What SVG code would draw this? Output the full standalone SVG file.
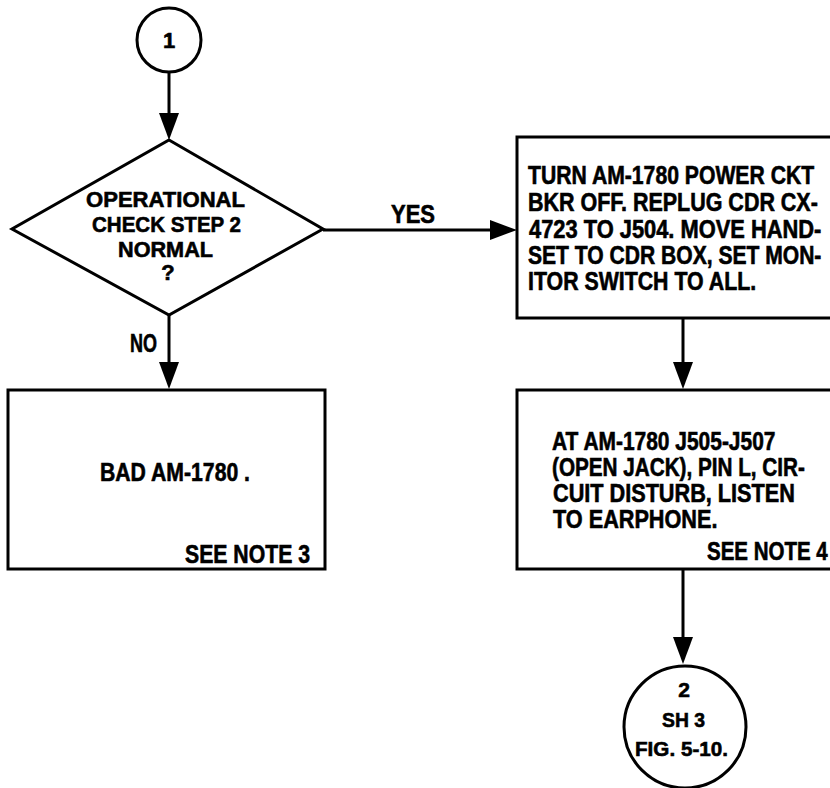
<svg xmlns="http://www.w3.org/2000/svg" width="830" height="788" viewBox="0 0 830 788">
<defs>
<style>
.shape{fill:#fff;stroke:#000;stroke-width:3}
.conn{fill:none;stroke:#000;stroke-width:3}
text{font-family:"Liberation Sans",Arial,sans-serif;font-weight:bold;fill:#000;stroke:#000;stroke-width:0.6}
.t25{font-size:25px}
.t22{font-size:22px}
.t21{font-size:21px}
.mid{text-anchor:middle}
</style>
<marker id="arr" markerUnits="userSpaceOnUse" markerWidth="28" markerHeight="22" viewBox="0 0 28 22" refX="17" refY="11" orient="auto">
<path d="M0,1 L27,11 L0,21 Z" fill="#000"/>
</marker>
</defs>
<rect width="830" height="788" fill="#fff"/>

<g id="connectors">
<line class="conn" x1="169" y1="72" x2="169" y2="130" marker-end="url(#arr)"/>
<line class="conn" x1="323" y1="230" x2="507" y2="230" marker-end="url(#arr)"/>
<line class="conn" x1="169" y1="315" x2="169" y2="379" marker-end="url(#arr)"/>
<line class="conn" x1="683" y1="318" x2="683" y2="379" marker-end="url(#arr)"/>
<line class="conn" x1="683" y1="569" x2="683" y2="654" marker-end="url(#arr)"/>
<text class="t25" x="391" y="223" textLength="44" lengthAdjust="spacingAndGlyphs">YES</text>
<text class="t25" x="130" y="352" textLength="27" lengthAdjust="spacingAndGlyphs">NO</text>
</g>

<g id="start">
<circle class="shape" cx="169" cy="40" r="32"/>
<text class="t22 mid" x="169" y="48">1</text>
</g>

<g id="decision">
<polygon class="shape" points="169,140 323,229 169,315 12,229"/>
<text class="t22" x="86" y="207" textLength="159" lengthAdjust="spacingAndGlyphs">OPERATIONAL</text>
<text class="t22" x="92" y="232" textLength="149" lengthAdjust="spacingAndGlyphs">CHECK STEP 2</text>
<text class="t22" x="118" y="257" textLength="95" lengthAdjust="spacingAndGlyphs">NORMAL</text>
<text class="t22 mid" x="168" y="280">?</text>
</g>

<g id="bad">
<rect class="shape" x="8" y="390" width="317" height="179"/>
<text class="t25" x="100" y="481" textLength="150" lengthAdjust="spacingAndGlyphs">BAD AM-1780 .</text>
<text class="t25" x="185" y="563" textLength="125" lengthAdjust="spacingAndGlyphs">SEE NOTE 3</text>
</g>

<g id="turn-off">
<rect class="shape" x="517" y="137" width="330" height="181"/>
<text class="t25" transform="translate(528,184) scale(0.847,1)">TURN AM-1780 POWER CKT</text>
<text class="t25" transform="translate(528,211) scale(0.859,1)">BKR OFF.  REPLUG CDR CX-</text>
<text class="t25" transform="translate(529,238) scale(0.875,1)">4723 TO J504.  MOVE HAND-</text>
<text class="t25" transform="translate(528,264) scale(0.843,1)">SET TO CDR BOX, SET MON-</text>
<text class="t25" transform="translate(528,290) scale(0.853,1)">ITOR SWITCH TO ALL.</text>
</g>

<g id="listen">
<rect class="shape" x="517" y="390" width="330" height="179"/>
<text class="t25" transform="translate(552,450) scale(0.838,1)">AT AM-1780 J505-J507</text>
<text class="t25" transform="translate(552,476) scale(0.828,1)">(OPEN JACK), PIN L, CIR-</text>
<text class="t25" transform="translate(553,502) scale(0.867,1)">CUIT DISTURB, LISTEN</text>
<text class="t25" transform="translate(553,528) scale(0.867,1)">TO EARPHONE.</text>
<text class="t25" transform="translate(707,560) scale(0.82,1)">SEE NOTE 4</text>
</g>

<g id="goto">
<circle class="shape" cx="685" cy="727" r="61"/>
<text class="t21 mid" x="684" y="697">2</text>
<text class="t21" x="662" y="727" textLength="43" lengthAdjust="spacingAndGlyphs">SH 3</text>
<text class="t21" x="635" y="756" textLength="93" lengthAdjust="spacingAndGlyphs">FIG. 5-10.</text>
</g>
</svg>
